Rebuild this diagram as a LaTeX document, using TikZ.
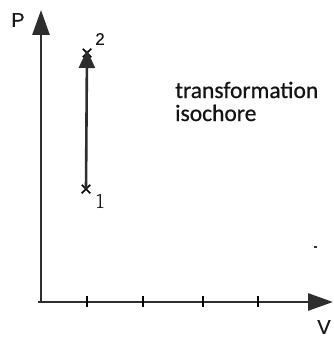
\documentclass[tikz,border=0pt]{standalone}
\usepackage{fontspec}
\setmainfont{Liberation Sans}
\newfontfamily\calib[FakeBold=0.7]{Carlito}
\newfontfamily\lmserif[FakeBold=0.6]{Latin Modern Roman}
\newfontfamily\lblsans[FakeBold=0.4]{Liberation Sans}
\usetikzlibrary{arrows.meta,shapes.misc}
\definecolor{axisgray}{gray}{0.18}
\begin{document}
\begin{tikzpicture}[x=1pt,y=-1pt,
  axis/.style={line width=2.8pt,draw=axisgray,-{Triangle[length=25pt,width=17pt]}},
  tick/.style={line width=1.7pt,draw=black},
  pmark/.style={cross out,draw=black,line width=1.5pt,minimum size=7pt,inner sep=0pt},
  lbl/.style={inner sep=0pt,font=\lblsans\fontsize{20}{20}\selectfont,text=black!90},
  txt/.style={inner sep=0pt,anchor=base west,font=\calib\fontsize{23.5}{23.5}\selectfont,text=black!92}]
\useasboundingbox (0,0) rectangle (334,337);
\coordinate (O) at (41,302);
\coordinate (Ytop) at (41,10);
\coordinate (Xend) at (333,302);
\draw[axis] (O) -- (Ytop);
\draw[axis] ([xshift=-3pt]O) -- (Xend);
\foreach \i/\x in {1/87,2/143,3/203,4/258}{
  \coordinate (t\i a) at (\x,296);
  \coordinate (t\i b) at (\x,307);
  \draw[tick] (t\i a) -- (t\i b);
}
\node[pmark] (p1) at (86,189) {};
\node[pmark] (p2) at (87,53) {};
\draw[line width=2.6pt,draw=axisgray,-{Triangle[length=18pt,width=16pt]}] (p1.center) -- ([yshift=3pt]p2.center);
\node[lbl] (P) at (18,20) {P};
\node[lbl] (V) at (324,327) {V};
\node[lbl,font=\lblsans\fontsize{17}{17}\selectfont] (l2) at (100,39) {2};
\node[lbl,font=\lmserif\fontsize{21}{21}\selectfont] (l1) at (100,201) {1};
\node[txt] (t1) at (175,98) {transformation};
\node[txt] (t2) at (175,121) {isochore};
\fill[black!80] (314,246) rectangle (317,248);
\end{tikzpicture}
\end{document}
